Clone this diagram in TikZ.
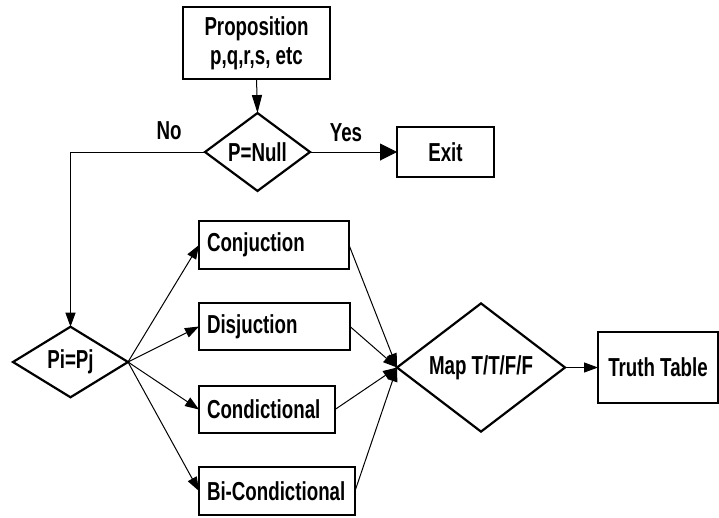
\documentclass[tikz,border=0pt]{standalone}
\usepackage{fontspec}
\setmainfont[FakeStretch=0.72]{Liberation Sans}
\usetikzlibrary{arrows.meta,shapes.geometric}
\begin{document}
\begin{tikzpicture}[x=1pt,y=-1pt,
  every node/.style={font=\bfseries\fontsize{26}{29}\selectfont, outer sep=0pt},
  box/.style={draw, line width=2.2pt, inner ysep=0pt},
  lbox/.style={box, inner xsep=8pt, align=left},
  dec/.style={draw, diamond, line width=2.2pt, inner sep=0pt},
  conn/.style={line width=1pt, -{Triangle[length=14pt,width=10pt]}},
  lbl/.style={inner sep=0pt}
]
\useasboundingbox (0,0) rectangle (719,517);

\node[box, minimum width=147pt, minimum height=72pt, align=center] (prop) at (256.5,43) {Proposition\\p,q,r,s, etc};
\node[dec, minimum width=105pt, minimum height=71pt] (null) at (257.5,152) {P=Null};
\node[box, minimum width=97pt, minimum height=50pt] (exit) at (445.5,152) {Exit};
\node[dec, minimum width=115pt, minimum height=70pt] (pij) at (70.5,362) {Pi=Pj};

\node[lbox, text width=134pt, minimum height=48pt] (conj) at (274,245) {Conjuction};
\node[lbox, text width=135pt, minimum height=47pt] (disj) at (274.5,326.5) {Disjuction};
\node[lbox, text width=120pt, minimum height=47pt] (cond) at (267,409.5) {Condictional};
\node[lbox, text width=140pt, minimum height=48pt] (bic) at (277,491) {Bi-Condictional};

\node[dec, minimum width=168pt, minimum height=93pt] (map) at (481,367.5) {Map T/T/F/F};
\node[box, minimum width=120pt, minimum height=71pt] (tt) at (658,367.5) {Truth Table};

\coordinate (corner) at (70.5,152);

\draw[conn, -{Triangle[length=18pt,width=10pt]}] (prop.south) -- (null.north);
\draw[conn, -{Triangle[length=17pt,width=17pt]}] (null.east) -- (exit.west);
\draw[conn] (null.west) -- (corner) -- (pij.north);
\node[lbl] (no) at (169,131) {No};
\node[lbl] (yes) at (346,133) {Yes};

\draw[conn] (pij.east) -- (conj.west);
\draw[conn] (pij.east) -- (disj.west);
\draw[conn] (pij.east) -- (cond.west);
\draw[conn] (pij.east) -- (bic.west);

\draw[conn] (conj.east) -- (map.west);
\draw[conn] (disj.east) -- (map.west);
\draw[conn] (cond.east) -- (map.west);
\draw[conn] (bic.east) -- (map.west);

\draw[conn] (map.east) -- (tt.west);
\end{tikzpicture}
\end{document}
